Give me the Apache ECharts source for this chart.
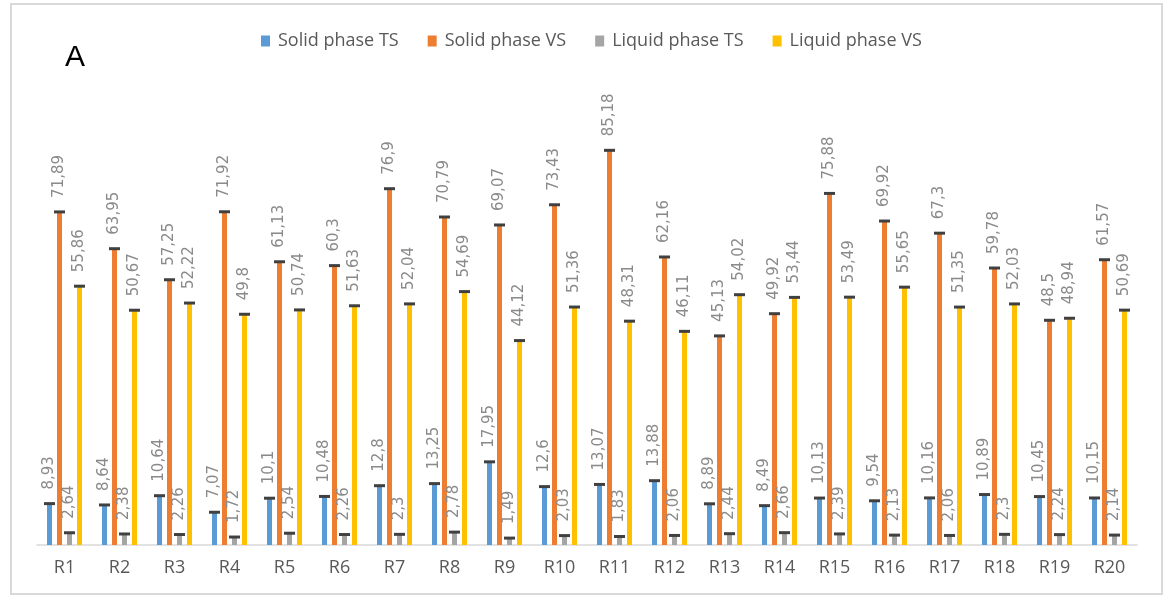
<!DOCTYPE html>
<html>
<head>
<meta charset="utf-8">
<script src="https://cdn.jsdelivr.net/npm/echarts@6/dist/echarts.min.js"></script>
<style>html,body{margin:0;padding:0;background:#fff;}#c{width:1165px;height:599px;}</style>
</head>
<body>
<div id="c"></div>
<script>
const categories = ['R1','R2','R3','R4','R5','R6','R7','R8','R9','R10','R11','R12','R13','R14','R15','R16','R17','R18','R19','R20'];
const solidTS  = [8.93, 8.64, 10.64, 7.07, 10.1, 10.48, 12.8, 13.25, 17.95, 12.6, 13.07, 13.88, 8.89, 8.49, 10.13, 9.54, 10.16, 10.89, 10.45, 10.15];
const solidVS  = [71.89, 63.95, 57.25, 71.92, 61.13, 60.3, 76.9, 70.79, 69.07, 73.43, 85.18, 62.16, 45.13, 49.92, 75.88, 69.92, 67.3, 59.78, 48.5, 61.57];
const liquidTS = [2.64, 2.38, 2.26, 1.72, 2.54, 2.26, 2.3, 2.78, 1.49, 2.03, 1.83, 2.06, 2.44, 2.66, 2.39, 2.13, 2.06, 2.3, 2.24, 2.14];
const liquidVS = [55.86, 50.67, 52.22, 49.8, 50.74, 51.63, 52.04, 54.69, 44.12, 51.36, 48.31, 46.11, 54.02, 53.44, 53.49, 55.65, 51.35, 52.03, 48.94, 50.69];
const seriesNames = ['Solid phase TS','Solid phase VS','Liquid phase TS','Liquid phase VS'];
const seriesData = [solidTS, solidVS, liquidTS, liquidVS];
const colors = ['#5B9BD5','#ED7D31','#A5A5A5','#FFC000'];

const BAR_W = 5;
const offsets = [-15, -5, 5, 15];
const fmt = v => String(v).replace('.', ',');

const chart = echarts.init(document.getElementById('c'));
const series = [];
seriesData.forEach((d, i) => {
  series.push({
    name: seriesNames[i],
    type: 'bar',
    data: d,
    barWidth: BAR_W,
    barGap: '100%',
    itemStyle: { color: colors[i] },
    label: {
      show: true,
      position: 'top',
      rotate: 90,
      align: 'left',
      verticalAlign: 'middle',
      distance: 14,
      color: '#8a8a8a',
      fontSize: 15,
      fontFamily: 'DejaVu Sans',
      formatter: p => fmt(p.value)
    },
    z: 2
  });
});
seriesData.forEach((d, i) => {
  series.push({
    type: 'custom',
    name: seriesNames[i] + ' cap',
    data: d.map((v, k) => [k, v]),
    z: 5,
    silent: true,
    tooltip: { show: false },
    renderItem: function (params, api) {
      const pt = api.coord([api.value(0), api.value(1)]);
      return {
        type: 'rect',
        shape: { x: pt[0] + offsets[i] - 5.5, y: pt[1] - 1.5, width: 11, height: 3 },
        style: { fill: '#404040' }
      };
    }
  });
});

chart.setOption({
  animation: false,
  backgroundColor: '#fff',
  title: {
    text: 'A',
    left: 60,
    top: 38,
    textStyle: { fontSize: 30, fontWeight: 'normal', color: '#000', fontFamily: 'Liberation Sans' }
  },
  legend: {
    data: seriesNames,
    top: 27,
    left: 256,
    itemWidth: 9,
    itemHeight: 11,
    itemGap: 29,
    icon: 'rect',
    textStyle: { fontSize: 18, color: '#595959', fontFamily: 'Open Sans', padding: [0, 0, 0, 3] }
  },
  graphic: [{
    type: 'rect',
    shape: { x: 11, y: 4, width: 1151, height: 590 },
    style: { fill: 'none', stroke: '#d9d9d9', lineWidth: 2 },
    silent: true,
    z: -1
  }],
  grid: { left: 37, right: 28, top: 128, bottom: 54 },
  xAxis: {
    type: 'category',
    data: categories,
    axisLine: { lineStyle: { color: '#d9d9d9', width: 1.5 } },
    axisTick: { show: false },
    axisLabel: { color: '#595959', fontSize: 18, margin: 14, fontFamily: 'Open Sans' }
  },
  yAxis: {
    type: 'value',
    min: 0,
    max: 90,
    show: false,
    splitLine: { show: false }
  },
  series: series
});
</script>
</body>
</html>
